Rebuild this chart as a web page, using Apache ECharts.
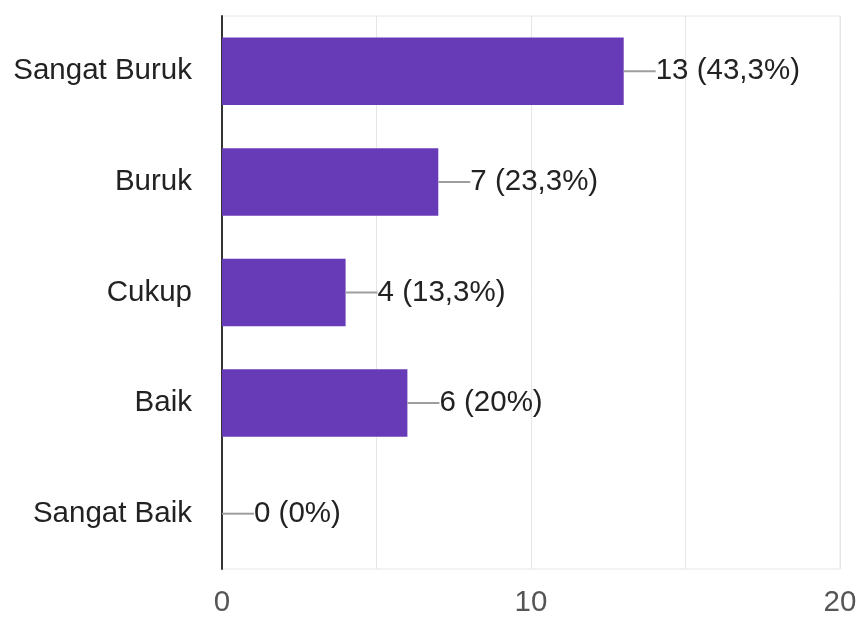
<!DOCTYPE html>
<html>
<head>
<meta charset="utf-8">
<script src="https://cdn.jsdelivr.net/npm/echarts@6/dist/echarts.min.js"></script>
<style>
  html, body { margin: 0; padding: 0; background: #fff; }
  #chart { width: 861px; height: 619px; }
</style>
</head>
<body>
<div id="chart"></div>
<script>
// Response categories, top to bottom
const categories = ['Sangat Buruk', 'Buruk', 'Cukup', 'Baik', 'Sangat Baik'];
// Respondent counts per category
const counts = [13, 7, 4, 6, 0];
// Share of respondents, as printed next to each bar
const percents = ['43,3%', '23,3%', '13,3%', '20%', '0%'];
// Value axis tick labels
const xTicks = [0, 10, 20];

const chart = echarts.init(document.getElementById('chart'));
const font = '"Liberation Sans", Arial, sans-serif';
const size = 29.5;

chart.setOption({
  animation: false,
  grid: {
    left: 222, right: 21, top: 16, bottom: 50,
    show: true, borderColor: '#e6e6e6', borderWidth: 1
  },
  xAxis: {
    type: 'value',
    min: 0, max: 20, interval: 5,
    axisLine: { show: false },
    axisTick: { show: false },
    splitLine: { lineStyle: { color: '#e6e6e6', width: 1 } },
    axisLabel: {
      margin: 19,
      fontSize: size,
      fontFamily: font,
      color: '#555',
      formatter: v => (xTicks.indexOf(v) >= 0 ? String(v) : '')
    }
  },
  yAxis: {
    type: 'category',
    inverse: true,
    data: categories,
    axisLine: { show: true, lineStyle: { color: '#333', width: 2 } },
    axisTick: { show: false },
    axisLabel: { margin: 30, fontSize: size, fontFamily: font, color: '#222' }
  },
  series: [{
    type: 'bar',
    data: counts,
    barCategoryGap: '39%',
    itemStyle: { color: '#673ab7' },
    label: {
      show: true,
      position: 'right',
      distance: 0,
      formatter: p => '{line|}{txt|' + counts[p.dataIndex] + ' (' + percents[p.dataIndex] + ')}',
      rich: {
        line: { width: 32, height: 2, backgroundColor: '#9e9e9e', verticalAlign: 'middle' },
        txt: { fontSize: size, fontFamily: font, color: '#222' }
      }
    }
  }]
});
</script>
</body>
</html>
